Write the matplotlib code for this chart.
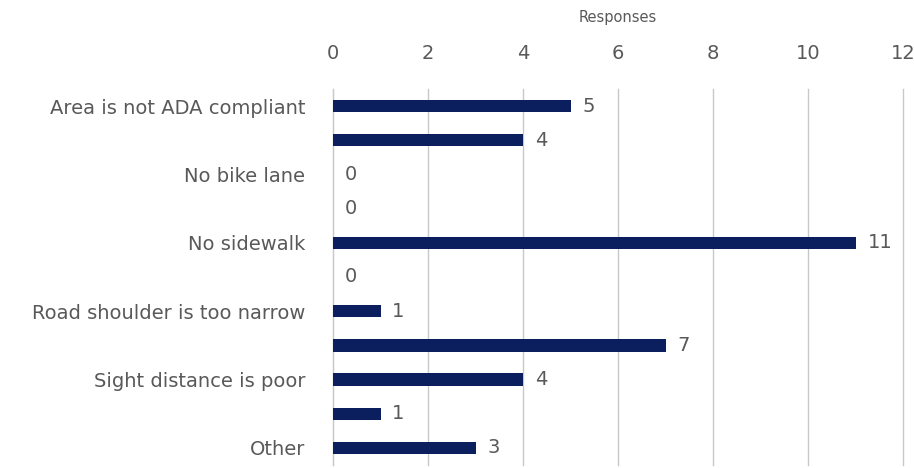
import matplotlib.pyplot as plt

# categories (only every other one has a visible label in the reference)
labels = ["Area is not ADA compliant", "", "No bike lane", "", "No sidewalk", "",
          "Road shoulder is too narrow", "", "Sight distance is poor", "", "Other"]
values = [5, 4, 0, 0, 11, 0, 1, 7, 4, 1, 3]
xticks = [0, 2, 4, 6, 8, 10, 12]

bar_color = "#0b1f5e"
text_color = "#595959"

plt.rcParams['font.family'] = ['DejaVu Sans']

fig = plt.figure(figsize=(9.14, 4.68), dpi=100)
ax = fig.add_axes([333 / 914, (468 - 465) / 468, (903 - 333) / 914, (465 - 89) / 468])

pos = list(range(len(values)))
ax.barh(pos, values, height=0.36, color=bar_color, zorder=3)

for p, v in zip(pos, values):
    ax.text(v + 0.25, p, str(v), va="center", ha="left", fontsize=14, color=text_color)

ax.set_ylim(len(values) - 0.5, -0.5)
ax.set_xlim(0, 12)
ax.set_yticks(pos)
ax.set_yticklabels(labels, fontsize=14, color=text_color)
ax.set_xticks(xticks)
ax.xaxis.tick_top()
ax.xaxis.set_label_position("top")
ax.set_xticklabels([str(t) for t in xticks], fontsize=14, color=text_color)
ax.set_xlabel("Responses", fontsize=10.5, color=text_color, labelpad=16)
ax.tick_params(axis="both", length=0)
ax.tick_params(axis="x", pad=18.5)
ax.tick_params(axis="y", pad=20)

ax.grid(axis="x", color="#c8c8c8", linewidth=1, zorder=0)
for gl in ax.get_xgridlines():
    gl.set_clip_on(False)
for s in ["top", "right", "bottom"]:
    ax.spines[s].set_visible(False)
ax.spines["left"].set_color("#c8c8c8")

fig.savefig("out.png", dpi=100)
